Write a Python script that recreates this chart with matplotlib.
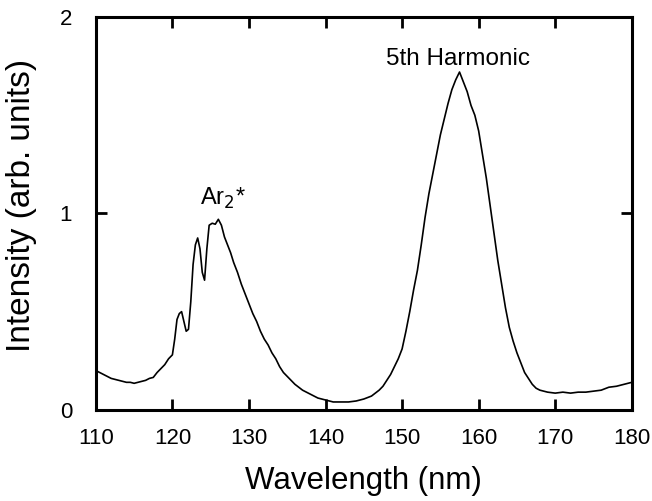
import matplotlib.pyplot as plt

plt.rcParams['font.family'] = ['Liberation Sans', 'DejaVu Sans']

# spectrum
wavelength = [110.0, 110.5, 111.0, 111.5, 112.0, 112.5, 113.0, 113.5, 114.0, 114.5,
              115.0, 115.5, 116.0, 116.5, 117.0, 117.5, 118.0, 118.5, 119.0, 119.5,
              120.0, 120.3, 120.6, 120.9, 121.2, 121.5, 121.8, 122.1, 122.4, 122.7,
              123.0, 123.3, 123.6, 123.9, 124.2, 124.5, 124.8, 125.2, 125.6, 126.0,
              126.4, 126.8, 127.2, 127.6, 128.0, 128.5, 129.0, 129.5, 130.0, 130.5,
              131.0, 131.5, 132.0, 132.5, 133.0, 133.5, 134.0, 134.5, 135.0, 135.5,
              136.0, 136.5, 137.0, 137.5, 138.0, 138.5, 139.0, 139.5, 140.0, 141.0,
              142.0, 143.0, 144.0, 145.0, 146.0, 147.0, 147.5, 148.0, 148.5, 149.0,
              149.5, 150.0, 150.5, 151.0, 151.5, 152.0, 152.5, 153.0, 153.5, 154.0,
              154.5, 155.0, 155.5, 156.0, 156.5, 157.0, 157.5, 158.0, 158.5, 159.0,
              159.5, 160.0, 160.5, 161.0, 161.5, 162.0, 162.5, 163.0, 163.5, 164.0,
              164.5, 165.0, 165.5, 166.0, 166.5, 167.0, 167.5, 168.0, 169.0, 170.0,
              171.0, 172.0, 173.0, 174.0, 175.0, 176.0, 177.0, 178.0, 179.0, 180.0]
intensity = [0.20, 0.19, 0.18, 0.17, 0.16, 0.155, 0.15, 0.145, 0.14, 0.14,
             0.135, 0.14, 0.145, 0.15, 0.16, 0.165, 0.19, 0.21, 0.23, 0.26,
             0.28, 0.36, 0.46, 0.49, 0.50, 0.45, 0.40, 0.41, 0.55, 0.74,
             0.84, 0.875, 0.82, 0.70, 0.66, 0.82, 0.94, 0.95, 0.945, 0.97,
             0.94, 0.88, 0.84, 0.80, 0.75, 0.70, 0.64, 0.59, 0.54, 0.49,
             0.45, 0.40, 0.36, 0.33, 0.29, 0.26, 0.22, 0.19, 0.17, 0.15,
             0.13, 0.115, 0.10, 0.09, 0.08, 0.07, 0.06, 0.055, 0.05, 0.04,
             0.04, 0.04, 0.045, 0.055, 0.07, 0.10, 0.12, 0.15, 0.18, 0.22,
             0.26, 0.31, 0.40, 0.50, 0.61, 0.71, 0.84, 0.98, 1.10, 1.20,
             1.30, 1.40, 1.48, 1.56, 1.63, 1.68, 1.72, 1.67, 1.62, 1.55,
             1.50, 1.42, 1.30, 1.18, 1.04, 0.90, 0.76, 0.64, 0.52, 0.42,
             0.35, 0.29, 0.24, 0.19, 0.16, 0.13, 0.11, 0.10, 0.09, 0.085,
             0.09, 0.085, 0.09, 0.09, 0.095, 0.10, 0.115, 0.12, 0.13, 0.14]

x_ticks = [110, 120, 130, 140, 150, 160, 170, 180]
y_ticks = [0, 1, 2]

fig = plt.figure(figsize=(6.52, 5.01), dpi=100)
ax = fig.add_axes([0.147, 0.182, 0.822, 0.784])

ax.plot(wavelength, intensity, color='black', lw=1.2)

ax.set_xlim(110, 180)
ax.set_ylim(0, 2)
ax.set_xticks(x_ticks)
ax.set_yticks(y_ticks)
ax.tick_params(direction='in', length=8, width=2, labelsize=16,
               top=True, right=True)
ax.tick_params(axis='x', pad=13)
ax.tick_params(axis='y', pad=17)
for s in ax.spines.values():
    s.set_linewidth(2.2)

ax.set_xlabel('Wavelength (nm)', fontsize=22.5, labelpad=12)
ax.set_ylabel('Intensity (arb. units)', fontsize=24, labelpad=8)
ax.yaxis.set_label_coords(-0.11, 0.52)

# peak labels
ax.text(126.6, 1.01, 'Ar$_2$*', fontsize=17, ha='center', va='bottom')
ax.text(157.3, 1.73, '5th Harmonic', fontsize=17.5, ha='center', va='bottom')

plt.savefig('out.png', dpi=100)
